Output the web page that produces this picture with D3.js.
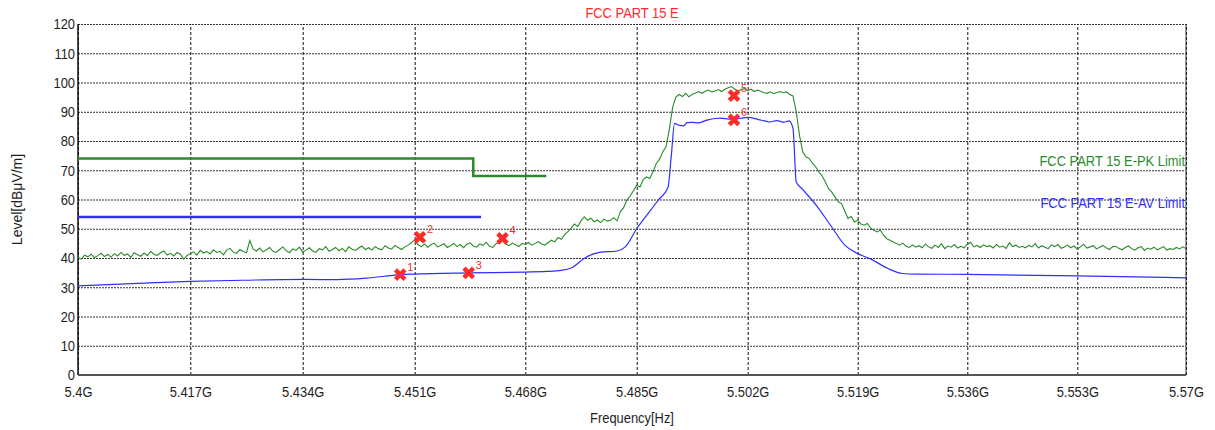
<!doctype html>
<html lang="en">
<head>
<meta charset="utf-8">
<title>FCC PART 15 E</title>
<script src="https://cdn.jsdelivr.net/npm/d3@7"></script>
<style>
  body { margin: 0; background: #fff; }
  svg text { font-family: "Liberation Sans Narrow", "Arial Narrow", "Liberation Sans", Arial, sans-serif; }
</style>
</head>
<body>
<svg id="chart" width="1215" height="430"></svg>
<script>
// ---- data (frequencies in MHz, levels in dBuV/m) ----
var xTicks = [5400, 5417, 5434, 5451, 5468, 5485, 5502, 5519, 5536, 5553, 5570];
var xTickLabels = ["5.4G", "5.417G", "5.434G", "5.451G", "5.468G", "5.485G", "5.502G", "5.519G", "5.536G", "5.553G", "5.57G"];
var yTicks = [0, 10, 20, 30, 40, 50, 60, 70, 80, 90, 100, 110, 120];

// peak sweep: one reading every 0.5 MHz from 5400 MHz
var pkStart = 5400, pkStep = 0.5;
var pkLevel = [
  40.2, 39.6, 41.0, 40.4, 41.3, 40.1, 40.8, 41.6, 40.5, 41.2,
  40.3, 41.5, 40.7, 41.9, 40.9, 41.4, 40.2, 41.8, 41.1, 40.6,
  41.7, 40.8, 42.3, 41.2, 40.9, 41.8, 42.4, 41.0, 41.6, 40.7,
  41.9, 41.3, 39.6, 40.8, 41.5, 42.1, 41.0, 42.6, 41.7, 42.2,
  41.4, 42.8, 41.9, 42.3, 41.1, 42.7, 43.3, 42.0, 41.6, 42.9,
  42.2, 41.8, 46.0, 43.0, 42.4, 43.4, 42.1, 42.8, 43.6, 42.3,
  41.9, 42.9, 43.8, 42.5, 41.8, 43.1, 42.6, 43.7, 42.0, 42.7,
  43.5, 42.4, 41.9, 43.2, 42.8, 43.9, 42.3, 42.9, 43.6, 42.5,
  43.3, 42.2, 43.8, 43.0, 42.6, 43.4, 44.1, 42.9, 43.5, 42.7,
  43.9, 43.2, 42.8, 44.2, 43.4, 43.0, 44.3, 43.6, 42.9, 43.8,
  44.4, 45.2, 46.3, 44.6, 43.9, 44.8, 43.7, 44.5, 45.1, 43.8,
  44.3, 44.9, 43.6, 44.2, 45.0, 43.9, 44.6, 43.5, 44.7, 45.2,
  44.1, 43.7, 44.8, 44.3, 45.4, 44.0, 43.6, 44.9, 45.3, 46.2,
  44.8, 44.2, 45.1, 44.5, 43.9, 45.0, 44.7, 45.3, 44.4, 45.0,
  45.6, 44.8, 44.4, 45.3, 46.1, 45.5, 47.0, 46.4, 48.0, 49.0,
  50.2, 51.6, 50.8, 52.7, 54.1, 52.9, 53.6, 52.4, 53.0, 52.1,
  53.3, 52.6, 52.9, 53.8, 52.7, 55.8, 57.2, 59.8, 61.2, 63.0,
  64.9, 64.3, 66.8, 67.7, 67.2, 69.5, 72.3, 73.8, 76.3, 78.0,
  84.0, 91.5, 95.0, 95.9, 95.2, 96.3, 95.1, 96.0, 96.4, 96.9,
  96.3, 97.0, 97.4, 96.8, 97.1, 97.6, 96.9, 97.7, 98.2, 98.6,
  97.8, 97.0, 97.6, 97.9, 97.2, 97.7, 96.9, 97.4, 97.0, 96.5,
  96.3, 96.8, 96.2, 96.6, 96.9, 96.5, 96.8, 95.9, 95.4, 90.0,
  82.0, 76.3, 74.6, 74.0, 72.4, 71.2, 69.4, 68.1, 66.0, 63.7,
  62.5, 60.8, 59.2, 58.6, 56.1, 53.5, 54.2, 52.3, 52.9, 51.6,
  51.2, 51.8, 50.3, 49.5, 48.9, 49.6, 47.8, 46.6, 46.1, 45.5,
  45.0, 44.4, 45.1, 44.0, 43.6, 44.5, 43.7, 44.2, 43.5, 44.8,
  43.8, 43.3, 44.4, 43.6, 44.9, 43.2, 44.1, 43.7, 44.6, 43.4,
  44.0, 43.5, 44.7, 45.4, 43.8, 44.3, 43.6, 44.5, 43.9, 44.2,
  43.4, 44.6, 43.7, 44.1, 43.3, 45.2, 43.9, 44.4, 43.6, 44.0,
  43.5, 44.3, 43.8, 44.9, 43.4, 44.2, 43.7, 43.2, 44.5, 43.9,
  44.6, 43.3, 43.8, 44.4, 43.5, 44.1, 43.0, 43.9, 44.7, 43.4,
  43.8, 44.2, 43.1, 43.7, 44.3, 43.5, 42.9, 43.8, 44.0, 43.3,
  42.8, 43.6, 44.1, 43.2, 42.7, 43.5, 43.9, 42.6, 43.4, 43.0,
  43.7, 42.8, 43.3, 43.9, 42.7, 43.2, 42.9, 43.6, 43.1, 43.8,
  43.2
];

// average trace
var avFreq = [5400, 5410, 5417, 5425, 5434, 5439.3, 5443.7, 5448.8, 5451, 5459.3, 5468, 5471.2, 5473.5, 5475, 5477.2,
  5479.3, 5482, 5483.3, 5485, 5486.5, 5488.3, 5489.8, 5490.3, 5490.8, 5491.4, 5492.2, 5492.7, 5493.5, 5494.5, 5495.3,
  5495.9, 5497, 5497.8, 5499.2, 5500.9, 5502, 5503.7, 5504.8, 5505.4, 5506.5, 5507.6, 5508.4, 5509, 5509.5, 5510.4,
  5512.6, 5514.8, 5517, 5519, 5520.9, 5523.7, 5525.9, 5528, 5536, 5553, 5570];
var avLevel = [30.5, 31.4, 32.0, 32.4, 32.7, 32.6, 33.1, 34.3, 34.5, 34.9, 35.2, 35.4, 35.8, 36.6, 40.2,
  41.9, 42.4, 43.9, 50.0, 54.5, 59.8, 64.2, 75.0, 86.0, 85.4, 85.2, 86.3, 86.4, 86.2, 86.8,
  87.2, 87.7, 87.8, 87.5, 87.7, 88.1, 87.3, 86.8, 86.5, 87.0, 86.4, 86.9, 84.3, 66.0, 63.7,
  58.0, 51.2, 44.4, 41.5, 39.8, 36.4, 34.7, 34.5, 34.4, 33.9, 33.2];

// limit lines
var pkLimitFreq = [5400, 5460, 5460, 5471.2];
var pkLimitLevel = [74, 74, 68, 68];
var avLimitFreq = [5400, 5461.2];
var avLimitLevel = [54, 54];

// markers
var markerNo = [1, 2, 3, 4, 5, 6];
var markerFreq = [5448.8, 5451.8, 5459.3, 5464.5, 5499.9, 5499.9];
var markerLevel = [34.3, 47.1, 34.9, 46.7, 95.5, 87.2];

// ---- layout ----
var plotLeft = 78, plotRight = 1186, plotTop = 24, plotBottom = 375;
// the grid columns of the source chart are not evenly spaced, so map each tick to its column
var gridX = [78, 190.3, 302.7, 414.7, 525.3, 636.7, 747.7, 857.7, 967.3, 1077.3, 1186];

var green = "#2a8a2a", blue = "#2f2fff", red = "#ff2a2a", ink = "#1e1e1e";

var svg = d3.select("#chart");
svg.append("rect").attr("width", 1215).attr("height", 430).attr("fill", "#fff");

var x = d3.scaleLinear().domain(xTicks).range(gridX);
var y = d3.scaleLinear().domain([0, 120]).range([plotBottom, plotTop]);

// horizontal grid + y labels
var yAxis = svg.append("g")
    .attr("transform", "translate(" + plotLeft + ",0)")
    .call(d3.axisLeft(y).tickValues(yTicks).tickSize(-(plotRight - plotLeft)).tickPadding(3));
yAxis.select(".domain").remove();
yAxis.selectAll(".tick line").attr("stroke", "#333").attr("stroke-dasharray", "2,1");
yAxis.selectAll(".tick text").attr("fill", ink).style("font-size", "15px").classed("narrow", true);

// vertical grid + x labels
var xAxis = svg.append("g")
    .attr("transform", "translate(0," + plotBottom + ")")
    .call(d3.axisBottom(x).tickValues(xTicks).tickSize(-(plotBottom - plotTop)).tickPadding(11)
      .tickFormat(function(d, i) { return xTickLabels[i]; }));
xAxis.select(".domain").remove();
xAxis.selectAll(".tick line").attr("stroke", "#111").attr("stroke-dasharray", "3,2");
xAxis.selectAll(".tick text").attr("fill", ink).style("font-size", "15px").classed("narrow", true);

// frame
svg.append("line").attr("x1", plotLeft).attr("x2", plotLeft).attr("y1", plotTop).attr("y2", plotBottom)
  .attr("stroke", "#111").attr("stroke-width", 1.5);
svg.append("line").attr("x1", plotLeft).attr("x2", plotRight).attr("y1", plotBottom).attr("y2", plotBottom)
  .attr("stroke", "#555").attr("stroke-width", 2);
svg.append("line").attr("x1", plotRight).attr("x2", plotRight).attr("y1", plotTop).attr("y2", plotBottom)
  .attr("stroke", "#333").attr("stroke-width", 1);

var line = d3.line().x(function(d) { return x(d[0]); }).y(function(d) { return y(d[1]); });

// limits
svg.append("path").datum(pkLimitFreq.map(function(f, i) { return [f, pkLimitLevel[i]]; }))
  .attr("d", line).attr("fill", "none").attr("stroke", green).attr("stroke-width", 2.5);
svg.append("path").datum(avLimitFreq.map(function(f, i) { return [f, avLimitLevel[i]]; }))
  .attr("d", line).attr("fill", "none").attr("stroke", blue).attr("stroke-width", 2.5);

// traces
svg.append("path").datum(pkLevel.map(function(v, i) { return [pkStart + i * pkStep, v]; }))
  .attr("d", line).attr("fill", "none").attr("stroke", green).attr("stroke-width", 1.1);
svg.append("path").datum(avFreq.map(function(f, i) { return [f, avLevel[i]]; }))
  .attr("d", line.curve(d3.curveMonotoneX)).attr("fill", "none").attr("stroke", blue).attr("stroke-width", 1.2);

// markers
var mk = svg.append("g").selectAll("g")
    .data(markerNo)
  .enter().append("g")
    .attr("transform", function(d, i) { return "translate(" + x(markerFreq[i]) + "," + y(markerLevel[i]) + ")"; });
mk.append("path")
  .attr("d", d3.symbol().type(d3.symbolCross).size(100))
  .attr("transform", "rotate(45)")
  .attr("fill", red);
mk.append("text")
  .attr("x", 7).attr("y", -4)
  .attr("fill", red).style("font-size", "11px")
  .text(function(d) { return d; });

// titles
svg.append("text").attr("x", (plotLeft + plotRight) / 2).attr("y", 18)
  .attr("text-anchor", "middle").attr("fill", red).style("font-size", "15px").classed("narrow", true)
  .text("FCC PART 15 E");
svg.append("text").attr("x", (plotLeft + plotRight) / 2).attr("y", 423)
  .attr("text-anchor", "middle").attr("fill", ink).style("font-size", "15px").classed("narrow", true)
  .text("Frequency[Hz]");
svg.append("text").attr("transform", "translate(22," + (plotTop + plotBottom) / 2 + ") rotate(-90)")
  .attr("text-anchor", "middle").attr("fill", ink).style("font-size", "14px")
  .text("Level[dBμV/m]");

// limit labels
svg.append("text").attr("x", plotRight - 1).attr("y", 166)
  .attr("text-anchor", "end").attr("fill", green).style("font-size", "15px").classed("narrow", true)
  .text("FCC PART 15 E-PK Limit");
svg.append("text").attr("x", plotRight - 1).attr("y", 208)
  .attr("text-anchor", "end").attr("fill", blue).style("font-size", "15px").classed("narrow", true)
  .text("FCC PART 15 E-AV Limit");

// no condensed face is installed, so squeeze the regular one to the source's narrow lettering
svg.selectAll("text.narrow").each(function() {
  var w = this.getComputedTextLength();
  d3.select(this).attr("textLength", w * 0.86).attr("lengthAdjust", "spacingAndGlyphs");
});
</script>
</body>
</html>
